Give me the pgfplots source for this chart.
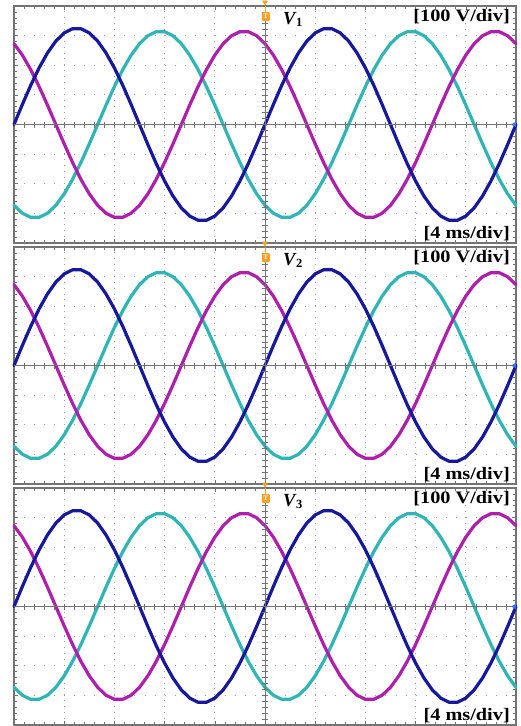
\documentclass[border=0pt]{standalone}
\usepackage{pgfplots}
\pgfplotsset{compat=1.18}
\usepackage{pgfplotstable}
\usepackage{graphicx}
\usepackage{fontspec}
\setmainfont{Liberation Serif}

\definecolor{chA}{RGB}{24,24,155}
\definecolor{chB}{RGB}{172,32,172}
\definecolor{chC}{RGB}{48,180,180}
\definecolor{framegray}{RGB}{115,115,115}
\definecolor{dotgray}{RGB}{155,155,155}
\definecolor{trig}{RGB}{245,160,35}
\definecolor{chmark}{RGB}{60,110,230}

% x in electrical degrees (72 deg = 1 div = 4 ms), y in divisions (100 V/div)
\pgfplotstableread{
x a b c
0 0 2.728 -2.728
12 0.676 2.341 -2.996
24 1.322 1.852 -3.133
36 1.910 1.281 -3.133
48 2.415 0.655 -2.996
60 2.815 0 -2.728
72 3.091 -0.655 -2.341
84 3.232 -1.281 -1.852
96 3.232 -1.852 -1.281
108 3.091 -2.341 -0.655
120 2.815 -2.728 0
132 2.415 -2.996 0.655
144 1.910 -3.133 1.281
156 1.322 -3.133 1.852
168 0.676 -2.996 2.341
180 0 -2.728 2.728
192 -0.676 -2.341 2.996
204 -1.322 -1.852 3.133
216 -1.910 -1.281 3.133
228 -2.415 -0.655 2.996
240 -2.815 0 2.728
252 -3.091 0.655 2.341
264 -3.232 1.281 1.852
276 -3.232 1.852 1.281
288 -3.091 2.341 0.655
300 -2.815 2.728 0
312 -2.415 2.996 -0.655
324 -1.910 3.133 -1.281
336 -1.322 3.133 -1.852
348 -0.676 2.996 -2.341
360 0 2.728 -2.728
372 0.676 2.341 -2.996
384 1.322 1.852 -3.133
396 1.910 1.281 -3.133
408 2.415 0.655 -2.996
420 2.815 0 -2.728
432 3.091 -0.655 -2.341
444 3.232 -1.281 -1.852
456 3.232 -1.852 -1.281
468 3.091 -2.341 -0.655
480 2.815 -2.728 0
492 2.415 -2.996 0.655
504 1.910 -3.133 1.281
516 1.322 -3.133 1.852
528 0.676 -2.996 2.341
540 0 -2.728 2.728
552 -0.676 -2.341 2.996
564 -1.322 -1.852 3.133
576 -1.910 -1.281 3.133
588 -2.415 -0.655 2.996
600 -2.815 0 2.728
612 -3.091 0.655 2.341
624 -3.232 1.281 1.852
636 -3.232 1.852 1.281
648 -3.091 2.341 0.655
660 -2.815 2.728 0
672 -2.415 2.996 -0.655
684 -1.910 3.133 -1.281
696 -1.322 3.133 -1.852
708 -0.676 2.996 -2.341
720 0 2.728 -2.728
}\wave

\newcommand{\lbl}[1]{\scalebox{1.16}[1]{\fontsize{17.5}{18}\selectfont\bfseries #1}}

\pgfplotsset{scopepanel/.style={
  width=502pt, height=237pt, scale only axis,
  xmin=0, xmax=720, ymin=-4, ymax=4,
  xtick={0,72,...,720}, ytick={-4,-3,...,4},
  minor x tick num=4, minor y tick num=4,
  xticklabels={}, yticklabels={},
  tick align=inside,
  major tick length=4pt, minor tick length=3pt,
  tick style={framegray, line width=0.6pt},
  xmajorgrids, ymajorgrids,
  x grid style={dotgray, line width=1pt, dash pattern=on 1pt off 4.92pt},
  y grid style={dotgray, line width=1pt, dash pattern=on 1pt off 9.04pt},
  axis line style={framegray, line width=1.6pt},
  clip=false,
  every axis plot/.append style={line width=3.2pt, line join=round, line cap=round},
}}

\newcommand{\decor}[1]{%
  \draw[framegray, line width=1pt] (axis cs:360,-4) -- (axis cs:360,4);
  \draw[framegray, line width=1pt] (axis cs:0,0) -- (axis cs:720,0);
  \pgfplotsinvokeforeach{-3.8,-3.6,...,3.81}{\draw[framegray, line width=0.6pt] ([xshift=-3pt]axis cs:360,##1) -- ([xshift=3pt]axis cs:360,##1);}
  \pgfplotsinvokeforeach{14.4,28.8,...,706}{\draw[framegray, line width=0.6pt] ([yshift=-3pt]axis cs:##1,0) -- ([yshift=3pt]axis cs:##1,0);}
  \fill[trig] ([yshift=0.5pt]rel axis cs:0.5,1) -- ([xshift=-3pt,yshift=5.5pt]rel axis cs:0.5,1) -- ([xshift=3pt,yshift=5.5pt]rel axis cs:0.5,1) -- cycle;
  \draw[trig, line width=1pt] (rel axis cs:0.5,1) -- ([yshift=-6pt]rel axis cs:0.5,1);
  \node[fill=trig, rounded corners=1.2pt, minimum width=8pt, minimum height=9pt, inner sep=0pt, text=white,
        font=\bfseries\fontsize{7}{7}\selectfont] at ([yshift=-10.5pt,xshift=0.8pt]rel axis cs:0.5,1) {T};
  \fill[chmark] ([xshift=-5pt]axis cs:720,0) -- ([yshift=2.8pt]axis cs:720,0) -- ([yshift=-2.8pt]axis cs:720,0) -- cycle;
  \node[anchor=north east, inner sep=0pt] at ([xshift=-6pt,yshift=-3.5pt]rel axis cs:1,1) {\lbl{[100 V/div]}};
  \node[anchor=south east, inner sep=0pt] at ([xshift=-6pt,yshift=1.5pt]rel axis cs:1,0) {\lbl{[4 ms/div]}};
  \node[anchor=north west, inner sep=0pt] at ([xshift=18pt,yshift=-6.5pt]rel axis cs:0.5,1)
     {\fontsize{18.5}{18.5}\selectfont\bfseries\itshape V\kern0.5pt\raisebox{-1.5pt}{\upshape\fontsize{12.5}{12.5}\selectfont #1}};
}

\begin{document}
\begin{tikzpicture}
\useasboundingbox (0pt,0pt) rectangle (521pt,-726pt);
\fill[white] (0pt,0pt) rectangle (521pt,-726pt);

\begin{axis}[scopepanel, at={(14pt,-6pt)}, anchor=north west]
  \addplot[chC] table[x=x, y=c] {\wave};
  \addplot[chB] table[x=x, y=b] {\wave};
  \addplot[chA] table[x=x, y=a] {\wave};
  \decor{1}
\end{axis}

\begin{axis}[scopepanel, at={(14pt,-247pt)}, anchor=north west]
  \addplot[chC] table[x=x, y=c] {\wave};
  \addplot[chB] table[x=x, y=b] {\wave};
  \addplot[chA] table[x=x, y=a] {\wave};
  \decor{2}
\end{axis}

\begin{axis}[scopepanel, at={(14pt,-488pt)}, anchor=north west]
  \addplot[chC] table[x=x, y=c] {\wave};
  \addplot[chB] table[x=x, y=b] {\wave};
  \addplot[chA] table[x=x, y=a] {\wave};
  \decor{3}
\end{axis}
\end{tikzpicture}
\end{document}
